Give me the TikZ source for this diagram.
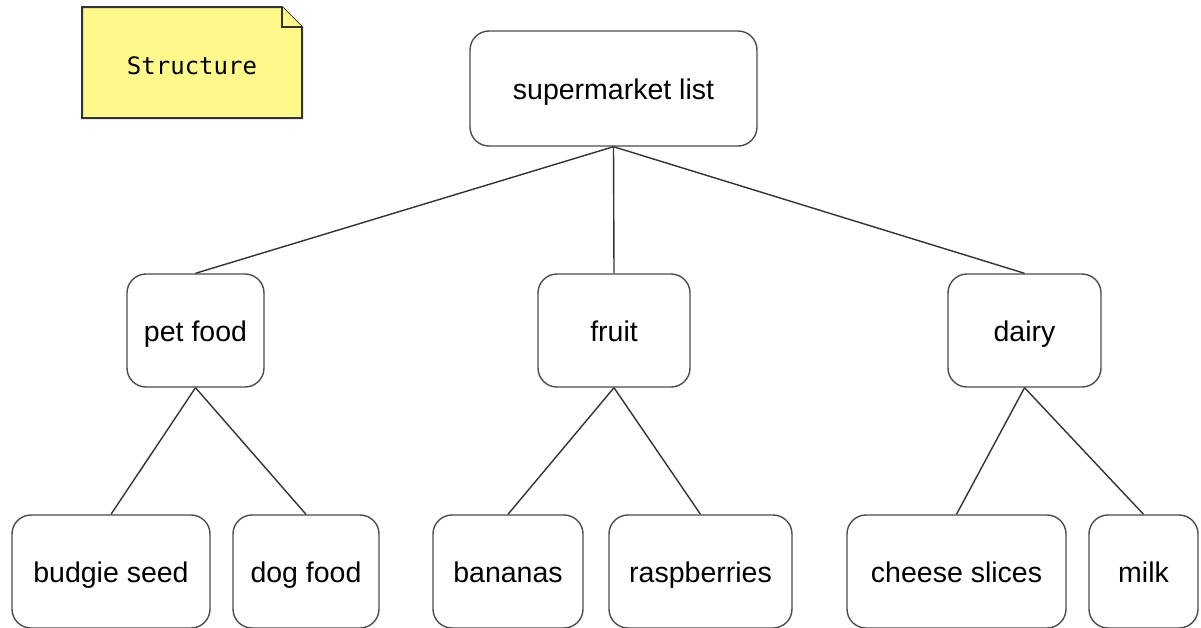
\documentclass[tikz,border=0pt]{standalone}
\usepackage{fontspec}
\setmainfont{Liberation Sans}
\newfontfamily\notefont{DejaVu Sans Mono}
\begin{document}
\begin{tikzpicture}[x=1pt,y=-1pt,
  itembox/.style={draw=black!70, line width=1.4pt, rounded corners=19pt, fill=white,
    font=\fontsize{28.5}{31}\selectfont, inner sep=0pt, anchor=center,
    text height=22pt, text depth=0pt},
  link/.style={draw=black!80, line width=1.4pt},
  notebox/.style={draw=black!80, line width=2pt, fill=yellow!45, line join=miter}]
\useasboundingbox (0,0) rectangle (1201,627);
\clip (0,0) rectangle (1201,627);

% sticky note
\draw[notebox] (82,7) -- (282,7) -- (302,27) -- (302,118) -- (82,118) -- cycle;
\draw[notebox] (282,7) -- (282,27) -- (302,27);
\node (note) at (192,66) {\notefont\fontsize{24}{26}\selectfont Structure};

% tree nodes
\node[itembox, minimum width=287pt, minimum height=115pt] (root) at (613.5,88.5) {supermarket list};
\node[itembox, minimum width=137pt, minimum height=113pt] (pet) at (195.5,330.5) {pet food};
\node[itembox, minimum width=152pt, minimum height=113pt] (fruit) at (614,330.5) {fruit};
\node[itembox, minimum width=153pt, minimum height=113pt] (dairy) at (1024.5,330.5) {dairy};

\node[itembox, minimum width=198pt, minimum height=113pt] (budgie) at (111,571.5) {budgie seed};
\node[itembox, minimum width=146pt, minimum height=113pt] (dog) at (306,571.5) {dog food};
\node[itembox, minimum width=150pt, minimum height=113pt] (banana) at (508,571.5) {bananas};
\node[itembox, minimum width=183pt, minimum height=113pt] (rasp) at (700.5,571.5) {raspberries};
\node[itembox, minimum width=219pt, minimum height=113pt] (cheese) at (956.5,571.5) {cheese slices};
\node[itembox, minimum width=109pt, minimum height=113pt] (milk) at (1143.5,571.5) {milk};

% connectors
\draw[link] (root.south) -- (pet.north);
\draw[link] (root.south) -- (fruit.north);
\draw[link] (root.south) -- (dairy.north);
\draw[link] (pet.south) -- (budgie.north);
\draw[link] (pet.south) -- (dog.north);
\draw[link] (fruit.south) -- (banana.north);
\draw[link] (fruit.south) -- (rasp.north);
\draw[link] (dairy.south) -- (cheese.north);
\draw[link] (dairy.south) -- (milk.north);
\end{tikzpicture}
\end{document}
